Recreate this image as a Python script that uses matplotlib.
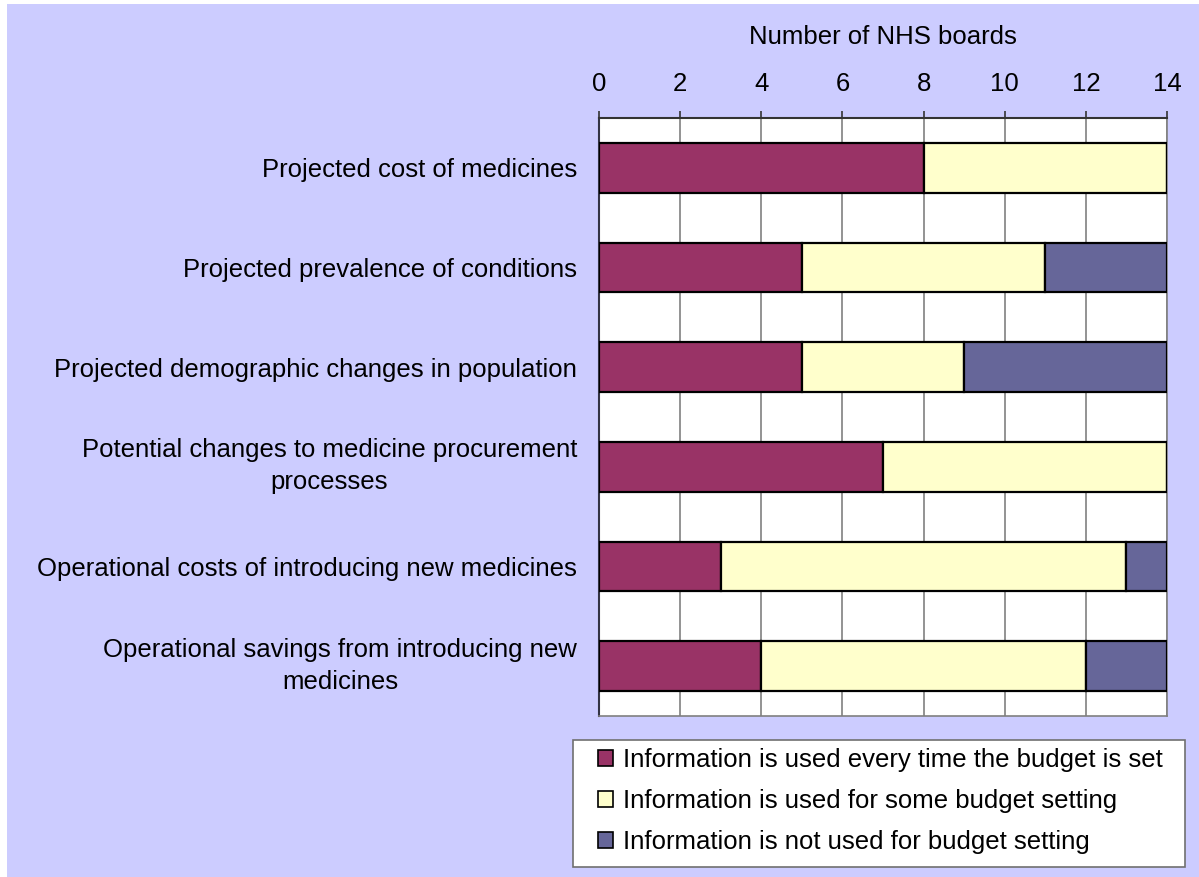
import matplotlib.pyplot as plt
from matplotlib.patches import Rectangle
from matplotlib.transforms import ScaledTranslation
import numpy as np

plt.rcParams['font.family'] = ['Liberation Sans', 'DejaVu Sans']

# categories, top to bottom
categories = [
    'Projected cost of medicines',
    'Projected prevalence of conditions',
    'Projected demographic changes in population',
    'Potential changes to medicine procurement\nprocesses',
    'Operational costs of introducing new medicines',
    'Operational savings from introducing new\nmedicines',
]
every_time = [8, 5, 5, 7, 3, 4]
some_setting = [6, 6, 4, 7, 10, 8]
not_used = [0, 3, 5, 0, 1, 2]

series_names = [
    'Information is used every time the budget is set',
    'Information is used for some budget setting',
    'Information is not used for budget setting',
]
colors = ['#993366', '#FFFFCC', '#666699']
FS = 18.5
W, H = 1199, 877

fig = plt.figure(figsize=(W / 100, H / 100), dpi=100)
fig.patch.set_facecolor('white')
# lavender chart area (thin white margin left/top as in the original)
fig.patches.append(Rectangle((7 / W, 0), 1 - 7 / W, 1 - 4 / H,
                             transform=fig.transFigure, facecolor='#CCCCFF',
                             edgecolor='none', zorder=-10))

ax = fig.add_axes([599 / W, 1 - 716 / H, 568 / W, 598 / H])
ax.set_facecolor('white')

y = np.arange(len(categories))
left = np.zeros(len(categories))
for vals, name, c in zip([every_time, some_setting, not_used], series_names, colors):
    vals = np.array(vals, dtype=float)
    ax.barh(y, vals, left=left, height=0.5, color=c, edgecolor='black',
            linewidth=1.6, label=name, zorder=3)
    left += vals

ax.set_xlim(0, 14)
ax.set_ylim(len(categories) - 0.5, -0.5)
ax.set_xticks(range(0, 15, 2))
ax.set_yticks(y)
ax.set_yticklabels(categories, fontsize=FS, ha='center', multialignment='center',
                   linespacing=1.42)

ax.xaxis.tick_top()
ax.xaxis.set_label_position('top')
ax.set_xlabel('Number of NHS boards', fontsize=FS, labelpad=20)
ax.tick_params(axis='x', direction='out', length=5, width=1.2, color='#333333',
               labelsize=FS, pad=11)
ax.tick_params(axis='y', length=0, pad=0)

# center the y labels in the left area (right edge ~22px from the axis)
fig.canvas.draw()
for lab in ax.get_yticklabels():
    bb = lab.get_window_extent()
    dy = 7 if '\n' in lab.get_text() else 0
    lab.set_transform(lab.get_transform() + ScaledTranslation(
        -(bb.width / 2 + 22) / 100, dy / 100, fig.dpi_scale_trans))

ax.grid(axis='x', color='#808080', linewidth=1.2, zorder=0)
ax.set_axisbelow(True)
for s in ['bottom', 'right']:
    ax.spines[s].set_color('#808080')
    ax.spines[s].set_linewidth(1.2)
ax.spines['left'].set_color('#333344')
ax.spines['left'].set_linewidth(1.5)
ax.spines['top'].set_color('#333333')
ax.spines['top'].set_linewidth(1.5)

# legend box drawn separately, legend entries without frame
fig.patches.append(Rectangle((573 / W, 1 - 867 / H), 612 / W, 127 / H,
                             transform=fig.transFigure, facecolor='white',
                             edgecolor='#707070', linewidth=1.2, zorder=1))
leg = fig.legend(loc='upper left', bbox_to_anchor=(598 / W, 1 - 748 / H),
                 fontsize=FS, frameon=False,
                 handlelength=0.58, handleheight=0.58, handletextpad=0.39,
                 labelspacing=0.67, borderpad=0, borderaxespad=0)
leg.set_zorder(2)
for h in leg.legend_handles:
    h.set_linewidth(1.2)

fig.savefig('out.png', dpi=100, facecolor=fig.get_facecolor())
